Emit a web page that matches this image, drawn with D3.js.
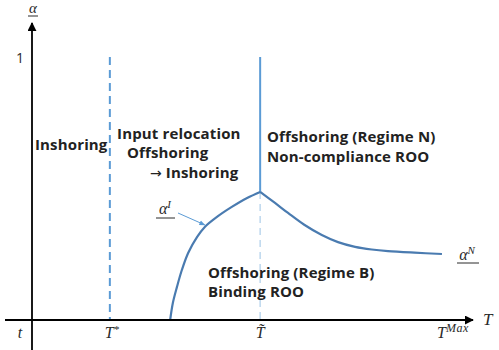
<!DOCTYPE html>
<html><head><meta charset="utf-8">
<script src="https://cdn.jsdelivr.net/npm/d3@7"></script>
<style>body{margin:0;background:#fff}svg{display:block}</style>
</head><body>
<script>
// data (abstract units: T on x in [0,100], alpha on y in [0,1])
const alphaI = [[30.7,0],[31.3,0.065],[32.2,0.125],[33.3,0.19],[34.7,0.255],[36.7,0.316],[38.4,0.354],[41.1,0.392],[44.4,0.430],[47.8,0.464],[50.7,0.487]];
const alphaN = [[50.7,0.487],[54.0,0.445],[56.9,0.407],[60.5,0.362],[64.4,0.323],[68,0.296],[71.8,0.278],[75.5,0.268],[79.1,0.262],[85,0.256],[91.1,0.251]];
const Tstar = 17.3, Ttilde = 50.7, Tmax = 90.7;
const xTicks = [{v:0,label:"t"},{v:Tstar,label:"T*"},{v:Ttilde,label:"T̃"},{v:Tmax,label:"TMax"}];
const yTicks = [{v:1,label:"1"}];
const regionLabels = [
  {x:0.67,y:0.646,lines:["Inshoring"],gap:20},
  {x:18.9,y:0.688,lines:["Input relocation"],gap:20},
  {x:21.1,y:0.616,lines:["Offshoring"],gap:20},
  {x:26.2,y:0.540,lines:["→ Inshoring"],gap:20},
  {x:52.2,y:0.677,lines:["Offshoring (Regime N)","Non-compliance ROO"],gap:20},
  {x:39.1,y:0.160,lines:["Offshoring (Regime B)","Binding ROO"],gap:19}
];

const W=499,H=350;
const x=d3.scaleLinear().domain([0,100]).range([32,482]);
const y=d3.scaleLinear().domain([0,1]).range([320,57]);
const svg=d3.select("body").append("svg").attr("width",W).attr("height",H);
const defs=svg.append("defs");
defs.append("marker").attr("id","arr").attr("viewBox","0 0 10 10").attr("refX",9).attr("refY",5)
 .attr("markerWidth",5).attr("markerHeight",5).attr("orient","auto-start-reverse")
 .append("path").attr("d","M0,0L10,5L0,10z").attr("fill","#000");
defs.append("marker").attr("id","arrb").attr("viewBox","0 0 10 10").attr("refX",9).attr("refY",5)
 .attr("markerWidth",6).attr("markerHeight",6).attr("orient","auto")
 .append("path").attr("d","M0,1L10,5L0,9z").attr("fill","#5b9bd5");

// T* dashed line
svg.append("line").attr("x1",x(Tstar)).attr("x2",x(Tstar)).attr("y1",y(1)).attr("y2",y(0))
 .attr("stroke","#5b9bd5").attr("stroke-width",2).attr("stroke-dasharray","8,5");
// T~ dashed lower
svg.append("line").attr("x1",x(Ttilde)).attr("x2",x(Ttilde)).attr("y1",y(0.487)).attr("y2",y(0))
 .attr("stroke","#bdd7ee").attr("stroke-width",1.5).attr("stroke-dasharray","7,5");
// T~ solid upper
svg.append("line").attr("x1",x(Ttilde)).attr("x2",x(Ttilde)).attr("y1",y(1)).attr("y2",y(0.487))
 .attr("stroke","#5b9bd5").attr("stroke-width",2);

const line=d3.line().x(d=>x(d[0])).y(d=>y(d[1])).curve(d3.curveCatmullRom);
svg.append("path").attr("d",line(alphaI)).attr("fill","none").attr("stroke","#4a7bb0").attr("stroke-width",2.2);
svg.append("path").attr("d",line(alphaN)).attr("fill","none").attr("stroke","#4a7bb0").attr("stroke-width",2.2);

// axes
svg.append("line").attr("x1",5).attr("x2",473).attr("y1",y(0)).attr("y2",y(0))
 .attr("stroke","#000").attr("stroke-width",1.8).attr("marker-end","url(#arr)");
svg.append("line").attr("x1",x(0)).attr("x2",x(0)).attr("y1",350).attr("y2",23)
 .attr("stroke","#000").attr("stroke-width",1.8).attr("marker-end","url(#arr)");

const serif="'Liberation Serif','DejaVu Serif',serif";
const col="#2a2a2a";
// x tick labels
xTicks.forEach(t=>{
  const g=svg.append("text").attr("x",x(t.v)+(t.v===0?-12:0)).attr("y",338).attr("text-anchor","middle")
   .attr("font-family",serif).attr("font-style","italic").attr("font-size",16).attr("fill",col);
  if(t.label==="T*"){g.attr("x",x(t.v)+2);g.text("T");g.append("tspan").attr("dy",-5).attr("font-size",11).text("*");}
  else if(t.label==="TMax"){g.attr("x",437).attr("text-anchor","start");g.text("T");g.append("tspan").attr("dy",-6).attr("font-size",12).attr("letter-spacing",0.5).text("Max");}
  else g.text(t.label);
});
svg.append("text").attr("x",483).attr("y",325).attr("font-family",serif).attr("font-style","italic")
 .attr("font-size",17).attr("fill",col).text("T");
// y labels
yTicks.forEach(t=>{
  svg.append("text").attr("x",20).attr("y",y(t.v)+6).attr("text-anchor","middle")
   .attr("font-family","'Open Sans',sans-serif").attr("font-size",14).attr("fill",col).text(t.label);
});
svg.append("text").attr("x",33).attr("y",13).attr("text-anchor","middle").attr("font-family",serif)
 .attr("font-style","italic").attr("font-size",15).attr("fill",col).text("α");
svg.append("line").attr("x1",28).attr("x2",38).attr("y1",16).attr("y2",16).attr("stroke",col).attr("stroke-width",1);

// region labels
regionLabels.forEach(r=>{
  const t=svg.append("text").attr("x",x(r.x)).attr("y",y(r.y)).attr("text-anchor","start")
   .attr("font-family","'Open Sans',sans-serif").attr("font-weight","bold").attr("font-size",15)
   .attr("letter-spacing",0.15).attr("fill","#222");
  r.lines.forEach((l,i)=>{
    const ts=t.append("tspan").attr("x",x(r.x)).attr("dy",i?r.gap:0);
    if(l.startsWith("→")){
      ts.append("tspan").attr("font-family","'DejaVu Sans',sans-serif").attr("font-weight","normal").attr("font-size",14).text("→");
      ts.append("tspan").text(l.slice(1));
    } else ts.text(l);
  });
});

// curve labels
const aI=svg.append("text").attr("x",165).attr("y",214).attr("text-anchor","middle").attr("font-family",serif)
 .attr("font-style","italic").attr("font-size",16).attr("fill",col);
aI.text("α");aI.append("tspan").attr("dy",-6).attr("font-size",11).text("I");
svg.append("line").attr("x1",156).attr("x2",175).attr("y1",218).attr("y2",218).attr("stroke",col);
svg.append("line").attr("x1",178).attr("y1",213).attr("x2",x(38.4)).attr("y2",y(0.354)-2)
 .attr("stroke","#5b9bd5").attr("stroke-width",1).attr("marker-end","url(#arrb)");
const aN=svg.append("text").attr("x",467).attr("y",260).attr("text-anchor","middle").attr("font-family",serif)
 .attr("font-style","italic").attr("font-size",16).attr("fill",col);
aN.text("α");aN.append("tspan").attr("dy",-6).attr("font-size",11).text("N");
svg.append("line").attr("x1",457).attr("x2",479).attr("y1",263).attr("y2",263).attr("stroke",col);
</script>
</body></html>
